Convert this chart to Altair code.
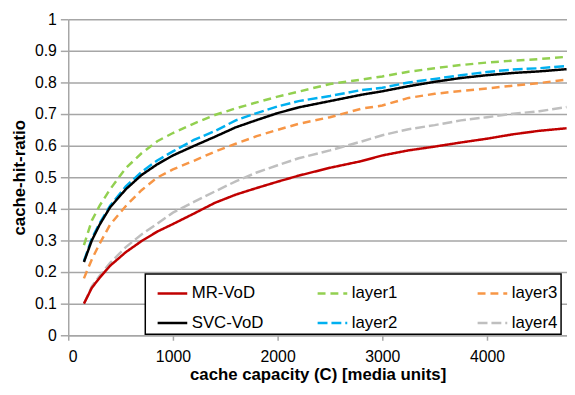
import altair as alt
import pandas as pd

# cache capacity (C) sample points
capacity = [150, 225, 300, 400, 550, 700, 850, 1000, 1200, 1400, 1600, 1800,
            2000, 2200, 2500, 2800, 3000, 3250, 3500, 3750, 4000, 4250, 4500, 4760]

mr_vod = [0.100, 0.150, 0.182, 0.220, 0.263, 0.298, 0.328, 0.352, 0.385, 0.419, 0.445, 0.466,
          0.486, 0.505, 0.530, 0.551, 0.569, 0.585, 0.597, 0.610, 0.622, 0.636, 0.647, 0.655]
svc_vod = [0.232, 0.300, 0.350, 0.405, 0.462, 0.507, 0.541, 0.569, 0.599, 0.628, 0.658, 0.681,
           0.703, 0.721, 0.741, 0.761, 0.772, 0.788, 0.802, 0.814, 0.823, 0.830, 0.835, 0.842]
layer1 = [0.285, 0.363, 0.410, 0.462, 0.529, 0.576, 0.614, 0.640, 0.670, 0.697, 0.718, 0.737,
          0.755, 0.771, 0.795, 0.809, 0.819, 0.834, 0.845, 0.855, 0.863, 0.869, 0.874, 0.881]
layer2 = [0.235, 0.306, 0.355, 0.410, 0.471, 0.517, 0.553, 0.582, 0.618, 0.646, 0.680, 0.703,
          0.724, 0.741, 0.757, 0.776, 0.783, 0.800, 0.811, 0.823, 0.833, 0.841, 0.845, 0.852]
layer3 = [0.180, 0.240, 0.290, 0.350, 0.409, 0.459, 0.499, 0.525, 0.552, 0.581, 0.606, 0.630,
          0.650, 0.669, 0.690, 0.717, 0.727, 0.751, 0.764, 0.773, 0.781, 0.790, 0.798, 0.809]
layer4 = [0.100, 0.155, 0.188, 0.229, 0.279, 0.319, 0.353, 0.388, 0.422, 0.455, 0.487, 0.515,
          0.538, 0.560, 0.585, 0.613, 0.633, 0.652, 0.665, 0.680, 0.690, 0.701, 0.709, 0.722]

series = {
    "layer1": layer1, "layer2": layer2, "layer3": layer3, "layer4": layer4,
    "MR-VoD": mr_vod, "SVC-VoD": svc_vod,
}

# legend order (row-major in a 3-column legend)
legend_order = ["MR-VoD", "layer1", "layer3", "SVC-VoD", "layer2", "layer4"]
colors = ["#C00000", "#92D050", "#F79646", "#000000", "#00B0F0", "#BFBFBF"]
dashes = [[1, 0], [8, 5], [8, 5], [1, 0], [10, 4], [10, 4]]

y_ticks = [0, 0.1, 0.2, 0.3, 0.4, 0.5, 0.6, 0.7, 0.8, 0.9, 1]
x_ticks = [0, 1000, 2000, 3000, 4000]

rows = []
for name, vals in series.items():
    for c, v in zip(capacity, vals):
        rows.append({"series": name, "capacity": c, "ratio": v})
df = pd.DataFrame(rows)

legend = alt.Legend(
    title=None, orient="none", legendX=78, legendY=258, columns=3,
    direction="horizontal",
    fillColor="white", strokeColor="black",
    padding=3, rowPadding=5, columnPadding=45, gridAlign="all",
    symbolType="stroke", symbolSize=900, symbolStrokeWidth=2.5, symbolOffset=8,
    labelFont="Liberation Sans", labelFontSize=17, labelColor="black",
    labelOffset=3,
)

chart = alt.Chart(df).mark_line(strokeWidth=2.5, clip=True).encode(
    x=alt.X("capacity:Q", scale=alt.Scale(domain=[0, 4764], nice=False, zero=False),
            axis=alt.Axis(values=x_ticks, format="d", grid=False,
                          title="cache capacity (C) [media units]")),
    y=alt.Y("ratio:Q", scale=alt.Scale(domain=[0, 1], nice=False),
            axis=alt.Axis(values=y_ticks, labelExpr="format(datum.value, '~g')",
                          title="cache-hit-ratio", grid=True)),
    color=alt.Color("series:N", scale=alt.Scale(domain=legend_order, range=colors),
                    sort=legend_order, legend=legend),
    strokeDash=alt.StrokeDash("series:N", scale=alt.Scale(domain=legend_order, range=dashes),
                              sort=legend_order, legend=legend),
).properties(
    width=505, height=320,
    autosize=alt.AutoSizeParams(type="none"),
    padding={"left": 61, "top": 9, "right": 0, "bottom": 50},
).configure_view(
    stroke=None
).configure_legend(
    strokeWidth=1.5
).configure_axis(
    labelFont="Liberation Sans", labelFontSize=16, labelColor="black",
    titleFont="Liberation Sans", titleFontSize=17, titleFontWeight="bold", titleColor="black",
    domainColor="#A6A6A6", domainWidth=1.5,
    tickColor="#A6A6A6", tickWidth=1.5,
    gridColor="#A6A6A6", gridWidth=1.5,
).configure_axisY(
    tickSize=8, labelPadding=4, titlePadding=6,
).configure_axisX(
    tickSize=5, labelPadding=9, titlePadding=2,
)

chart.save("out.html", embed_options={"renderer": "svg", "actions": False})
